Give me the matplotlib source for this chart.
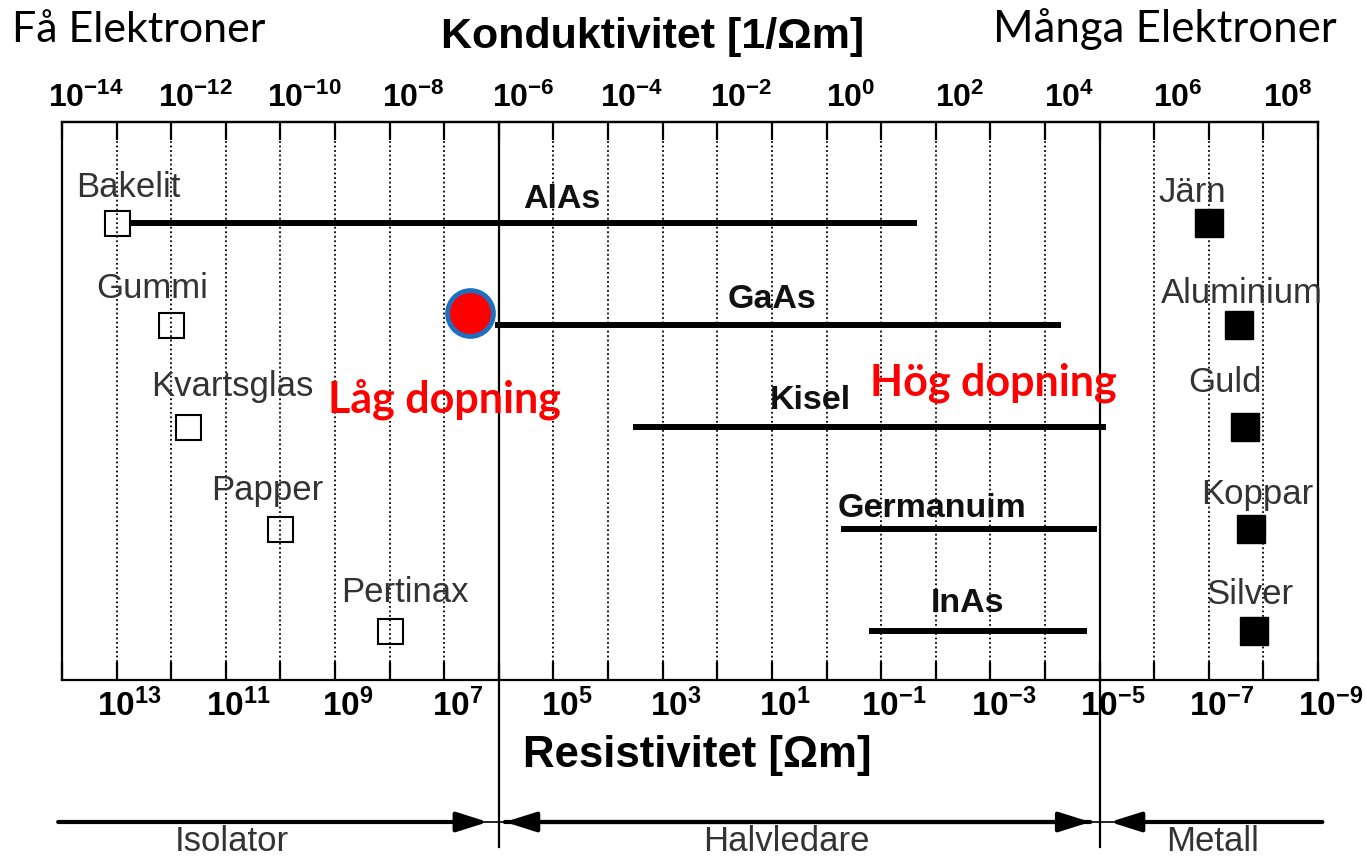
import numpy as np
import matplotlib
matplotlib.use("Agg")
from matplotlib import pyplot as plt
from matplotlib.transforms import ScaledTranslation

plt.rcParams["font.family"] = ["Liberation Sans", "DejaVu Sans"]
plt.rcParams["mathtext.fontset"] = "custom"
plt.rcParams["mathtext.bf"] = "Liberation Sans:bold"
plt.rcParams["mathtext.rm"] = "Liberation Sans:bold"

# resistivity values [Ohm m]
insulators = ["Bakelit", "Gummi", "Kvartsglas", "Papper", "Pertinax"]
insulator_rho = [1e13, 1e12, 5e11, 1e10, 1e8]

semis = ["AlAs", "GaAs", "Kisel", "Germanuim", "InAs"]
semi_rho_high = [5.9e12, 1.2e6, 3.5e3, 0.54, 0.17]
semi_rho_low = [0.022, 5.0e-5, 7.6e-6, 1.1e-5, 1.7e-5]

metals = ["Järn", "Aluminium", "Guld", "Koppar", "Silver"]
metal_rho = [1.0e-7, 2.75e-8, 2.2e-8, 1.66e-8, 1.48e-8]

# class borders and tick exponents
borders = [1e6, 1e-5]
rho_exp = np.arange(13, -10, -2)      # labelled on bottom
sigma_exp = np.arange(-14, 9, 2)      # labelled on top

rows = np.arange(5)

# label placement (log10 rho of label centre, offset above row)
ins_lab_x = [12.79, 12.35, 10.89, 10.25, 7.72]
ins_lab_dy = [0.255, 0.265, 0.30, 0.285, 0.285]
semi_lab_x = [4.84, 1.0, 0.3, -1.93, -2.59]
semi_lab_dy = [0.15, 0.17, 0.18, 0.12, 0.19]
met_lab_x = [-6.70, -7.61, -7.29, -7.89, -7.76]
met_lab_dy = [0.21, 0.22, 0.345, 0.245, 0.265]

fig = plt.figure(figsize=(13.65, 8.57), dpi=100)
ax = fig.add_axes([62/1365, 1-680/857, 1256/1365, 558/857])
ax.set_xscale("log")
ax.set_xlim(1e14, 1e-9)
ax.set_ylim(4.48, -0.99)

# dotted decade grid
ax.set_xticks(10.0**np.arange(14, -10, -1))
ax.xaxis.set_minor_locator(matplotlib.ticker.NullLocator())
labels = []
for e in np.arange(14, -10, -1):
    labels.append(r"$\mathbf{10^{%d}}$" % e if e in rho_exp else "")
ax.set_xticklabels(labels)
ax.grid(axis="x", which="major", linestyle=(0, (1, 1.5)), color="k", lw=1.3)
ax.tick_params(axis="x", direction="in", length=13, width=1.6, labelsize=24, pad=6, top=False)
ax.set_yticks([])
for s in ax.spines.values():
    s.set_linewidth(1.6)

# conductivity axis on top
sec = ax.secondary_xaxis("top", functions=(lambda r: 1/r, lambda s: 1/s))
sec.set_xticks(10.0**np.arange(-14, 10, 1))
sec.xaxis.set_minor_locator(matplotlib.ticker.NullLocator())
sec.set_xticklabels([r"$\mathbf{10^{%d}}$" % e if e in sigma_exp else "" for e in np.arange(-14, 10, 1)])
sec.tick_params(axis="x", direction="in", length=13, width=1.6, labelsize=23, pad=6)
sec.spines["top"].set_linewidth(1.6)

# the labels in the original sit a little right of their ticks
for t in ax.xaxis.get_major_ticks():
    t.label1.set_transform(t.label1.get_transform() + ScaledTranslation(0.13, 0, fig.dpi_scale_trans))
for t in sec.xaxis.get_major_ticks():
    for lab in (t.label1, t.label2):
        lab.set_transform(lab.get_transform() + ScaledTranslation(0.24, 0, fig.dpi_scale_trans))

# class borders
trans = ax.get_xaxis_transform()
for b in borders:
    ax.plot([b, b], [1, -0.30], color="k", lw=1.6, transform=trans, clip_on=False, zorder=3)

# semiconductors
for i in rows:
    ax.plot([semi_rho_high[i], semi_rho_low[i]], [i, i], color="k", lw=4.3,
            solid_capstyle="butt", zorder=4)
    ax.text(10.0**semi_lab_x[i], i - semi_lab_dy[i], semis[i], ha="center", va="baseline",
            fontsize=24.5, fontweight="bold", color="#111111")

# insulators
ax.plot(insulator_rho, rows, linestyle="none", marker="s", markersize=18,
        mfc="none", mec="k", mew=1.5, zorder=5)
for i in rows:
    ax.text(10.0**ins_lab_x[i], i - ins_lab_dy[i], insulators[i], ha="center", va="baseline",
            fontsize=25, color="#333333")

# metals
ax.plot(metal_rho, rows, linestyle="none", marker="s", markersize=19.5,
        mfc="k", mec="k", zorder=5)
for i in rows:
    ax.text(10.0**met_lab_x[i], i - met_lab_dy[i], metals[i], ha="center", va="baseline",
            fontsize=25, color="#333333")

# low doping marker and doping notes
ax.plot([10**6.53], [0.88], marker="o", markersize=33, mfc="red", mec="#1f6fbf", mew=3.5, zorder=6)
ax.text(10**7.0, 1.86, "Låg dopning", ha="center", va="baseline", fontsize=31,
        fontweight="bold", color="red", family=["Lato", "DejaVu Sans"])
ax.text(10**-3.05, 1.69, "Hög dopning", ha="center", va="baseline", fontsize=31,
        fontweight="bold", color="red", family=["Lato", "DejaVu Sans"])

# classification arrows below the axes
ya = (680 - 822) / 558
ax.plot([10**14.07, 10**-9.08], [ya, ya], color="k", lw=1.2, transform=trans, clip_on=False)
head = "-|>,head_length=1.9,head_width=0.6"
arrows = [(10**14.07, 10**6.20), (10**-9.08, 10**-5.19),
          (10**-4.83, 10**5.89), (10**5.89, 10**-4.83)]
for tail, tip in arrows:
    ax.annotate("", xy=(tip, ya), xytext=(tail, ya), xycoords=trans, annotation_clip=False,
                arrowprops=dict(arrowstyle=head, lw=3, color="k", shrinkA=0, shrinkB=0))

for name, xc in [("Isolator", 232), ("Halvledare", 786), ("Metall", 1213)]:
    fig.text(xc/1365, 1-851/857, name, ha="center", va="baseline", fontsize=25, color="#333333")

fig.text(697/1365, 1-767/857, "Resistivitet [Ωm]", ha="center", va="baseline",
         fontsize=31.5, fontweight="bold")
fig.text(653/1365, 1-48/857, "Konduktivitet [1/Ωm]", ha="center", va="baseline",
         fontsize=31, fontweight="bold")
fig.text(12/1365, 1-42/857, "Få Elektroner", ha="left", va="baseline", fontsize=31,
         family=["Lato", "DejaVu Sans"])
fig.text(1337/1365, 1-42/857, "Många Elektroner", ha="right", va="baseline", fontsize=31.5,
         family=["Lato", "DejaVu Sans"])

fig.savefig("out.png", dpi=100)
